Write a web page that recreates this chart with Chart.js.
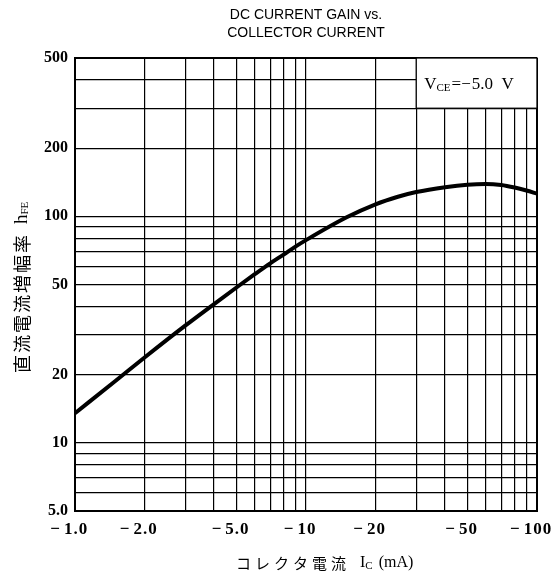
<!DOCTYPE html>
<html>
<head>
<meta charset="utf-8">
<script src="https://cdn.jsdelivr.net/npm/chart.js@4.4.1/dist/chart.umd.min.js"></script>
<style>
  html, body { margin: 0; padding: 0; background: #fff; }
  #wrap { width: 557px; height: 574px; }
</style>
</head>
<body>
<div id="wrap"><canvas id="chart" width="557" height="574"></canvas></div>
<script>
// collector current |Ic| in mA, and DC current gain hFE
const currentMA = [1, 1.5, 2, 3, 4, 5, 6, 7, 8, 9, 10, 15, 20, 25, 30, 40, 50, 60, 70, 80, 90, 100];
const gainHFE = [13.5, 18.8, 23.8, 32.9, 41, 48.5, 55.5, 62, 67.8, 73.5, 78.5, 99, 113, 122, 128, 134.5, 138, 139, 137.5, 134, 130, 126];

const xGrid = [1, 2, 3, 4, 5, 6, 7, 8, 9, 10, 20, 30, 40, 50, 60, 70, 80, 90, 100];
const yGrid = [5, 6, 7, 8, 9, 10, 20, 30, 40, 50, 60, 70, 80, 90, 100, 200, 300, 400, 500];
const xLabels = { 1: '1.0', 2: '2.0', 5: '5.0', 10: '10', 20: '20', 50: '50', 100: '100' };
const yLabels = { 5: '5.0', 10: '10', 20: '20', 50: '50', 100: '100', 200: '200', 500: '500' };

const SERIF = '"Liberation Serif", "DejaVu Serif", serif';
const SANS = '"Liberation Sans", Arial, sans-serif';
const CJK = '"Noto Sans CJK JP", "Noto Sans CJK SC", sans-serif';

// text, V_CE box and custom x labels
const decorations = {
  id: 'decorations',
  beforeDatasetsDraw(chart) {
    const { ctx, scales: { x, y } } = chart;
    const x1 = x.getPixelForValue(30), x2 = x.getPixelForValue(100);
    const y1 = y.getPixelForValue(500), y2 = y.getPixelForValue(300);
    ctx.save();
    ctx.fillStyle = '#fff';
    ctx.fillRect(x1, y1, x2 - x1, y2 - y1);
    ctx.strokeStyle = '#000';
    ctx.lineWidth = 1.3;
    ctx.strokeRect(x1, y1, x2 - x1, y2 - y1);
    // V_CE = -5.0 V
    const cy = (y1 + y2) / 2 + 1;
    let tx = x1 + 8;
    ctx.fillStyle = '#000';
    ctx.textBaseline = 'middle';
    ctx.textAlign = 'left';
    ctx.font = '17px ' + SERIF;
    ctx.fillText('V', tx, cy);
    tx += ctx.measureText('V').width;
    ctx.font = '11px ' + SERIF;
    ctx.fillText('CE', tx, cy + 4);
    tx += ctx.measureText('CE').width + 1;
    ctx.font = '17px ' + SERIF;
    ctx.fillText('=\u2212', tx, cy);
    tx += ctx.measureText('=\u2212').width + 1;
    ctx.fillText('5.0  V', tx, cy);
    ctx.restore();
  },
  afterDraw(chart) {
    const { ctx, chartArea, scales: { x } } = chart;
    ctx.save();
    ctx.fillStyle = '#000';
    ctx.textBaseline = 'middle';
    // x tick labels: number centred on the line, minus sign in front
    ctx.font = 'bold 17px ' + SERIF;
    ctx.letterSpacing = '1px';
    Object.keys(xLabels).forEach(k => {
      const px = x.getPixelForValue(Number(k));
      const s = xLabels[k];
      const w = ctx.measureText(s).width;
      ctx.textAlign = 'center';
      ctx.fillText(s, px + 1, chartArea.bottom + 19);
      ctx.textAlign = 'right';
      ctx.fillText('\u2212', px - w / 2 - 2, chartArea.bottom + 19);
    });
    ctx.letterSpacing = '0px';
    // title
    const mid = (chartArea.left + chartArea.right) / 2;
    ctx.textAlign = 'center';
    ctx.font = '14px ' + SANS;
    ctx.fillText('DC CURRENT GAIN vs.', mid, 15);
    ctx.fillText('COLLECTOR CURRENT', mid, 33);
    // x axis title
    ctx.textAlign = 'left';
    ctx.font = '15px ' + CJK;
    let tx = 236;
    const ty = 563;
    ctx.letterSpacing = '4px';
    ctx.fillText('コレクタ電流', tx, ty);
    tx += ctx.measureText('コレクタ電流').width + 10;
    ctx.letterSpacing = '0px';
    ctx.font = '16px ' + SERIF;
    ctx.fillText('I', tx, ty);
    tx += ctx.measureText('I').width;
    ctx.font = '11px ' + SERIF;
    ctx.fillText('C', tx, ty + 3);
    tx += ctx.measureText('C').width + 6;
    ctx.font = '16px ' + SERIF;
    ctx.fillText('(mA)', tx, ty);
    // y axis title, rotated
    ctx.translate(22, 373);
    ctx.rotate(-Math.PI / 2);
    ctx.font = '18px ' + CJK;
    ctx.letterSpacing = '2px';
    ctx.fillText('直流電流増幅率', 0, 0);
    let ry = ctx.measureText('直流電流増幅率').width + 9;
    ctx.letterSpacing = '0px';
    ctx.font = '19px ' + SERIF;
    ctx.fillText('h', ry, 0);
    ry += ctx.measureText('h').width;
    ctx.font = '11px ' + SERIF;
    ctx.fillText('FE', ry, 3);
    ctx.restore();
  }
};

const edgeWidth = (v, lo, hi) => (v === lo || v === hi) ? 2 : 1.2;

new Chart(document.getElementById('chart'), {
  type: 'line',
  data: {
    datasets: [{
      data: currentMA.map((v, i) => ({ x: v, y: gainHFE[i] })),
      borderColor: '#000',
      borderWidth: 4,
      pointRadius: 0,
      fill: false,
      cubicInterpolationMode: 'monotone'
    }]
  },
  options: {
    responsive: false,
    animation: false,
    layout: { padding: { left: 0, right: 20, top: 58, bottom: 0 } },
    plugins: { legend: { display: false }, tooltip: { enabled: false }, title: { display: false } },
    scales: {
      x: {
        type: 'logarithmic',
        min: 1,
        max: 100,
        afterBuildTicks: s => { s.ticks = xGrid.map(v => ({ value: v })); },
        afterFit: s => { s.height = 63; },
        ticks: { display: false, autoSkip: false },
        grid: {
          color: '#000',
          drawTicks: false,
          lineWidth: c => edgeWidth(c.tick && c.tick.value, 1, 100)
        },
        border: { display: true, color: '#000', width: 2 }
      },
      y: {
        type: 'logarithmic',
        min: 5,
        max: 500,
        afterBuildTicks: s => { s.ticks = yGrid.map(v => ({ value: v })); },
        afterFit: s => { s.width = 75; },
        ticks: {
          autoSkip: false,
          padding: 7,
          color: '#000',
          font: { family: SERIF, size: 16, weight: 'bold' },
          callback: v => yLabels[v] || ''
        },
        grid: {
          color: '#000',
          drawTicks: false,
          lineWidth: c => edgeWidth(c.tick && c.tick.value, 5, 500)
        },
        border: { display: true, color: '#000', width: 2 }
      }
    }
  },
  plugins: [decorations]
});
</script>
</body>
</html>
